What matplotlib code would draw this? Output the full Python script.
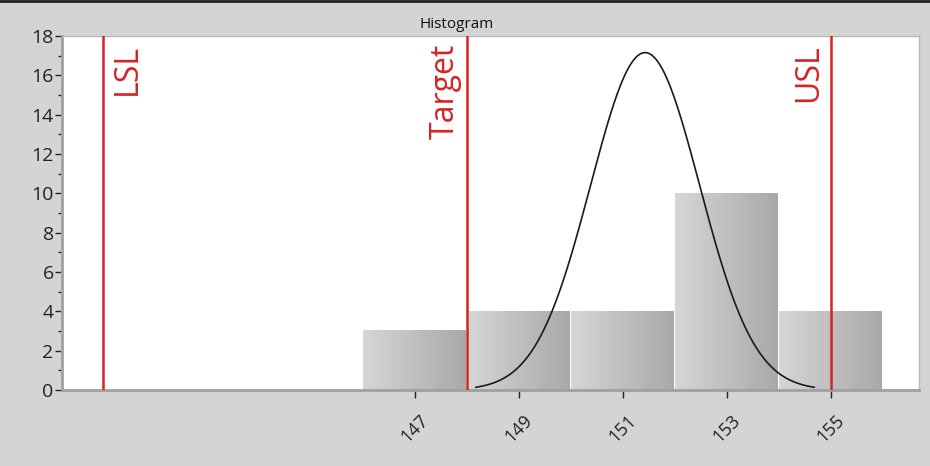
import numpy as np
import matplotlib.pyplot as plt
from matplotlib.lines import Line2D

# histogram data
bin_left = [146, 148, 150, 152, 154]
bin_width = 2
counts = [3, 4, 4, 10, 4]

# fitted normal curve
fit_mean = 151.43
fit_sigma = 1.05
fit_peak = 17.15

# spec limits
spec_names = ["LSL", "Target", "USL"]
spec_values = [141, 148, 155]
spec_side = ["left", "right", "right"]   # text alignment relative to line

x_ticks = [147, 149, 151, 153, 155]
bg = "#d4d4d4"
red = "#d42424"

plt.rcParams['font.family'] = ['Open Sans', 'DejaVu Sans']

fig = plt.figure(figsize=(9.3, 4.66), dpi=100, facecolor=bg)
ax = fig.add_axes([0.0667, 0.163, 0.922, 0.760])
ax.set_facecolor("white")

# gradient bars
grad = np.linspace(0, 1, 64).reshape(1, -1)
cmap = plt.matplotlib.colors.LinearSegmentedColormap.from_list(
    "bar", ["#d6d6d6", "#a9a9a9"])
for x0, c in zip(bin_left, counts):
    ax.imshow(grad, cmap=cmap, aspect="auto", interpolation="bilinear",
              extent=[x0 + 0.01, x0 + bin_width - 0.01, 0, c], zorder=2)

# normal curve over +/- 3 sigma
xs = np.linspace(fit_mean - 3.1 * fit_sigma, fit_mean + 3.1 * fit_sigma, 300)
ys = fit_peak * np.exp(-(xs - fit_mean) ** 2 / (2 * fit_sigma ** 2))
ax.plot(xs, ys, color="#1a1a1a", lw=1.2, zorder=4)

# spec lines
for name, v, side in zip(spec_names, spec_values, spec_side):
    ax.axvline(v, color=red, lw=1.8, zorder=5)
    dx = 0.15 if side == "left" else -0.1
    ax.text(v + dx, 17.6, name, rotation=90, color=red, fontsize=23,
            ha=side, va="top", zorder=6)

ax.set_xlim(140.21, 156.71)
ax.set_ylim(0, 18)
ax.set_xticks(x_ticks)
ax.set_xticklabels([str(t) for t in x_ticks], rotation=45, fontsize=13,
                   color="#222222")
ax.set_yticks(np.arange(0, 19, 2))
ax.set_yticks(np.arange(1, 18, 2), minor=True)
ax.tick_params(axis="y", labelsize=14, length=5, width=1, colors="#222222",
               pad=1)
ax.tick_params(axis="y", which="minor", length=3, width=1, colors="#222222")
ax.tick_params(axis="x", length=6, width=1, colors="#222222", pad=9)

for s in ["left", "bottom"]:
    ax.spines[s].set_color("#a0a0a0")
    ax.spines[s].set_linewidth(2)
for s in ["top", "right"]:
    ax.spines[s].set_color("#b8b8b8")
    ax.spines[s].set_linewidth(1)

fig.text(457 / 930, 1 - 24 / 466, "Histogram", ha="center", va="center",
         fontsize=11, color="#111111")
fig.add_artist(Line2D([0, 1], [0.997, 0.997], color="#222222", lw=2,
                      transform=fig.transFigure))

fig.savefig("out.png", dpi=100, facecolor=bg)
